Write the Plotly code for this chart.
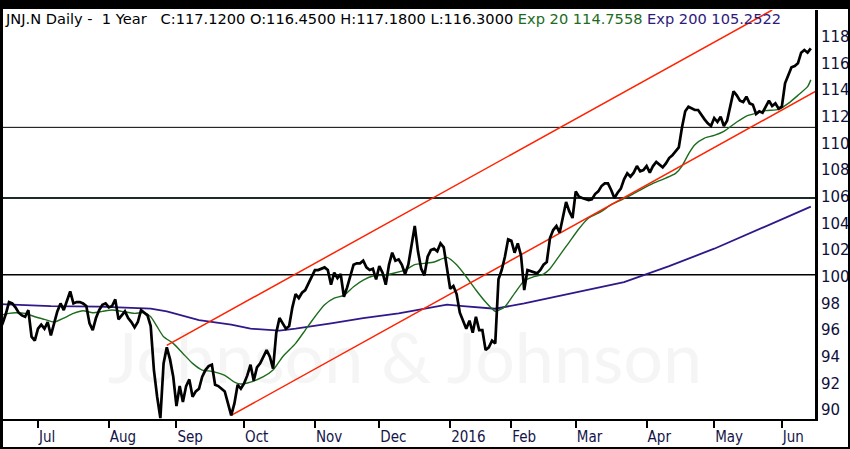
import pandas as pd
import plotly.graph_objects as go

# daily closes, one per trading day (15 Jun 2015 .. 14 Jun 2016)
close = [
    96.0, 96.5, 97.2, 98.1, 98.0, 97.7, 97.3, 97.1, 97.0, 97.5,
    95.5, 95.2, 96.1, 96.4, 96.1, 96.6, 95.6, 96.5, 97.4, 98.0,
    97.5, 98.2, 98.9, 98.0, 98.1, 98.1, 98.0, 97.8, 96.5, 96.0,
    96.9, 97.5, 97.9, 98.0, 97.7, 97.8, 98.3, 96.8, 97.1, 97.4,
    96.9, 96.6, 96.2, 96.6, 97.5, 97.3, 97.1, 96.3, 93.0, 91.0,
    89.4, 93.5, 94.7, 93.8, 92.5, 90.3, 91.8, 90.6, 91.8, 92.3,
    91.0, 91.4, 91.6, 92.5, 93.0, 93.3, 93.4, 91.9, 91.8, 91.6,
    91.4, 90.5, 89.6, 90.5, 91.9, 91.6, 92.0, 92.6,
    93.4, 92.2, 93.2, 93.5, 94.0, 94.5, 94.0, 93.1, 95.8, 96.9,
    96.5, 96.1, 96.3, 97.7, 98.7, 98.4, 98.8, 99.0, 99.5, 100.0,
    100.5, 100.5, 100.6, 100.7, 100.5, 99.4, 100.3, 99.9, 100.2, 98.5,
    99.2, 100.0, 100.9, 101.0, 101.0, 101.2, 100.7, 100.5, 100.6, 99.8,
    100.8, 100.3, 99.4, 100.9, 101.8, 101.2, 101.3, 100.9, 100.2, 100.9,
    102.5, 103.8, 101.9, 100.6, 100.1, 101.5, 102.0, 102.1, 101.9, 102.5,
    102.2, 100.8, 99.1, 99.3, 98.7, 97.3, 96.7, 96.1, 96.7, 95.8,
    97.0, 96.0,
    96.0, 94.5, 94.7, 95.2, 95.0, 99.8, 100.5, 101.5, 102.8, 102.7,
    101.8, 102.5, 101.6, 99.0, 100.5, 100.4, 100.3, 100.25, 100.5, 100.9,
    101.1, 102.9, 103.5, 103.8, 103.3, 104.6, 105.6, 104.9, 104.4, 106.4,
    106.0, 105.9, 105.8, 105.75, 105.8, 106.2, 106.4, 106.8, 107.0, 107.0,
    106.5, 105.9, 106.3, 106.6, 107.3, 107.75, 107.5, 107.8, 108.3, 107.9,
    108.0, 108.3, 107.8, 108.3, 108.6, 108.4, 108.2, 108.5, 108.9,
    109.1, 109.4, 109.7, 111.2, 112.4, 112.75, 112.6, 112.5, 112.5, 112.1,
    111.8, 111.5, 111.3, 111.9, 111.6, 112.0, 111.3, 111.7, 112.8, 113.9,
    113.6, 113.2, 113.1, 113.5, 113.0, 112.9, 112.2, 112.4, 112.3, 112.8,
    113.2, 112.8, 113.0, 112.6, 112.75, 114.5, 115.1, 115.7, 115.8, 116.0,
    116.8, 117.0, 116.8, 117.12,
]

# Exp 20 (trading-day number, value)
ema20_day = [0, 3, 5, 8, 11, 14, 17, 20, 23, 26, 29, 32, 35, 38, 42, 45, 47, 49, 51, 54,
             57, 60, 63, 66, 70, 73, 75, 78, 82, 85, 88, 92, 95, 98, 101, 104, 107, 110, 113, 116,
             119, 123, 126, 129, 132, 135, 139, 142, 145, 148, 151, 153, 154, 157, 160, 163, 166, 169, 171, 174,
             177, 180, 183, 187, 190, 193, 196, 199, 203, 207, 210, 212, 214, 216, 219, 222, 225, 229, 232, 235,
             238, 242, 245, 248, 251, 252]
ema20 = [97.1, 97.25, 97.3, 97.25, 97.0, 96.8, 96.6, 96.9, 97.25, 97.45, 97.3, 97.4, 97.5, 97.4, 97.25, 97.3, 97.0, 96.25, 95.5, 95.0,
         94.25, 93.5, 93.0, 92.9, 92.6, 92.1, 91.95, 92.1, 92.5, 93.0, 94.0, 95.0, 96.0, 97.0, 97.9, 98.4, 98.6, 99.25, 99.75, 100.05,
         100.1, 100.3, 100.5, 100.9, 101.0, 101.1, 101.45, 100.9, 100.0, 99.0, 98.1, 97.6, 97.4, 97.75, 98.75, 99.7, 100.0, 100.2, 100.6, 101.6,
         102.6, 103.6, 104.4, 104.9, 105.4, 105.75, 106.1, 106.5, 107.0, 107.4, 107.75, 108.3, 109.2, 109.9, 110.4, 110.6, 110.9, 111.6, 112.05, 112.25,
         112.45, 112.55, 113.0, 113.6, 114.25, 114.76]

# Exp 200
ema200_day = [0, 16, 31, 47, 52, 62, 72, 78, 87, 92, 103, 113, 124, 134, 139, 144, 150, 154,
              163, 173, 183, 194, 201, 208, 222, 236, 252]
ema200 = [97.95, 97.8, 97.75, 97.6, 97.4, 96.75, 96.4, 96.1, 95.95, 96.1, 96.5, 96.9, 97.25, 97.7, 97.9, 97.8, 97.7, 97.6,
          98.0, 98.5, 99.05, 99.6, 100.2, 100.8, 102.1, 103.55, 105.25]

# trend channel (start/end day, price)
trend_low_day = [72, 253.5]
trend_low = [89.6, 113.9]
trend_up_day = [52, 240]
trend_up = [94.85, 120.0]

levels = [111.2, 105.9, 100.15]
level_width = [1, 2, 1.5]
level_color = ["#000000", "#1c2a2a", "#000000"]

holidays = ["2015-07-03", "2015-09-07", "2015-11-26", "2015-12-25", "2016-01-01",
            "2016-01-18", "2016-02-15", "2016-03-25", "2016-05-30"]
y_ticks = list(range(90, 119, 2))

dates = [d for d in pd.bdate_range("2015-06-15", "2016-06-14") if d.strftime("%Y-%m-%d") not in holidays]
days = list(range(len(close)))
tickvals, ticktext = [], []
for i in range(1, len(dates)):
    if dates[i].month != dates[i - 1].month:
        tickvals.append(i)
        ticktext.append("2016" if dates[i].month == 1 else dates[i].strftime("%b"))

W, H = 850, 449
ml, mr, mt, mb = 0, 35, 10, 30
pw, ph = W - ml - mr, H - mt - mb
xr = [0.2, 253.3]
yr = [89.33, 120.0]

fig = go.Figure()

# faint watermark behind everything
fig.add_trace(go.Scatter(
    x=[xr[0] + (xr[1] - xr[0]) * 0.497], y=[yr[0] + (yr[1] - yr[0]) * 0.13],
    mode="text", text=["Johnson & Johnson"],
    textfont=dict(family="Lato", size=70, color="#f5f5f5"),
    hoverinfo="skip", showlegend=False))

fig.add_trace(go.Scatter(x=ema200_day, y=ema200, mode="lines",
                         line=dict(color="#30188a", width=1.8), showlegend=False))
fig.add_trace(go.Scatter(x=ema20_day, y=ema20, mode="lines",
                         line=dict(color="#1d6b1d", width=1.4, shape="spline", smoothing=0.6), showlegend=False))
fig.add_trace(go.Scatter(x=trend_low_day, y=trend_low, mode="lines",
                         line=dict(color="#ff2200", width=1.5), showlegend=False))
fig.add_trace(go.Scatter(x=trend_up_day, y=trend_up, mode="lines",
                         line=dict(color="#ff2200", width=1.5), showlegend=False))
fig.add_trace(go.Scatter(x=days, y=close, mode="lines",
                         line=dict(color="black", width=2.7), showlegend=False))

for v, w, c in zip(levels, level_width, level_color):
    fig.add_shape(type="line", xref="paper", yref="y", x0=0, x1=1, y0=v, y1=v,
                  line=dict(color=c, width=w), layer="below")

# black outer frame
fx = lambda px: (px - ml) / pw
fy = lambda py: (H - mb - py) / ph
for x0, y0, x1, y1 in [(0, 0, W, 9), (0, 0, 3, H), (W - 2, 0, W, H), (0, H - 2, W, H)]:
    fig.add_shape(type="rect", xref="paper", yref="paper",
                  x0=fx(x0), x1=fx(x1), y0=fy(y0), y1=fy(y1),
                  fillcolor="black", line=dict(width=0), layer="above")

sp = "\u00a0"
header = ("JNJ.N Daily -" + sp * 2 + "1 Year" + sp * 3 +
          "C:117.1200 O:116.4500 H:117.1800 L:116.3000 "
          "<span style='color:#1d6b1d'>Exp 20 114.7558</span> "
          "<span style='color:#2e1a7a'>Exp 200 105.2522</span>")
fig.add_annotation(text=header, xref="paper", yref="paper", x=fx(3), y=1, yshift=2,
                   xanchor="left", yanchor="top", showarrow=False,
                   font=dict(family="DejaVu Sans", size=14.6, color="black"))

fig.update_layout(
    width=W, height=H,
    margin=dict(l=ml, r=mr, t=mt, b=mb, autoexpand=False),
    paper_bgcolor="white", plot_bgcolor="white",
    showlegend=False, hovermode=False,
    xaxis=dict(range=xr, showgrid=False, zeroline=False,
               showline=True, linecolor="black", linewidth=2,
               ticks="outside", ticklen=7, tickwidth=2, tickcolor="black",
               tickvals=tickvals, ticktext=ticktext,
               ticklabelposition="outside right", ticklabelshift=-1, ticklabelstandoff=3,
               tickfont=dict(family="Liberation Sans Narrow, DejaVu Sans Condensed, sans-serif", size=15, color="#14144a")),
    yaxis=dict(range=yr, side="right", showgrid=False, zeroline=False,
               showline=True, linecolor="black", linewidth=3,
               ticks="", tickvals=y_ticks,
               tickfont=dict(family="DejaVu Sans", size=15, color="#10103a")),
)

fig.write_html("out.html", config={"displayModeBar": False, "staticPlot": True},
               post_script="document.body.style.margin='0';document.body.style.overflow='hidden';")
